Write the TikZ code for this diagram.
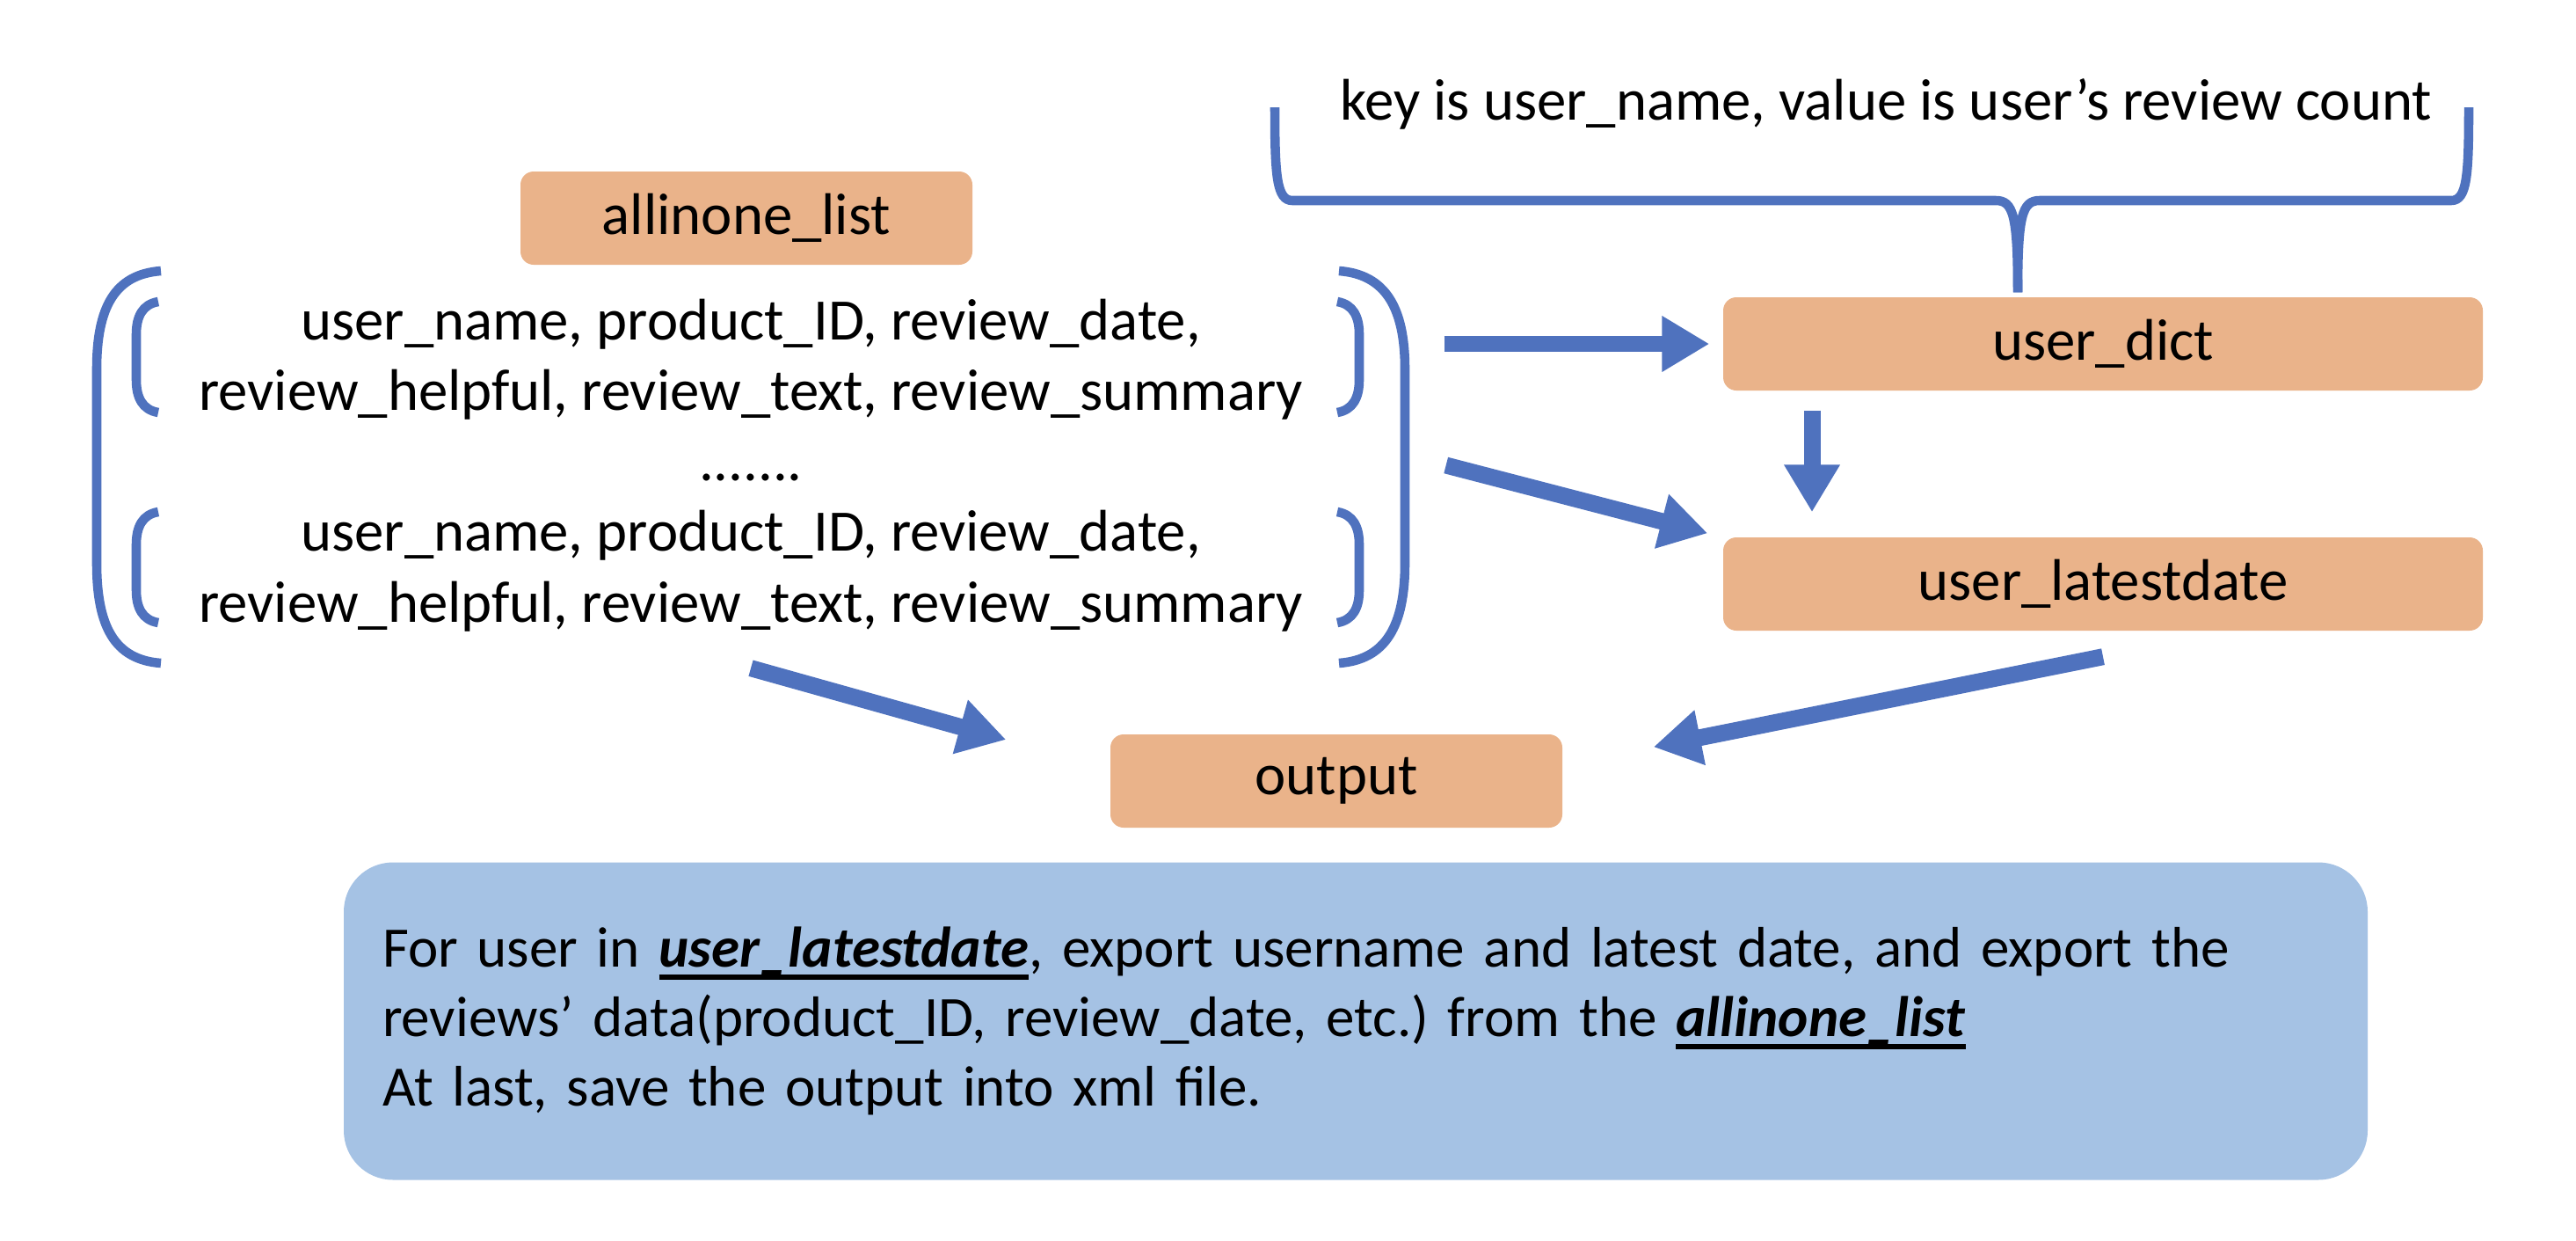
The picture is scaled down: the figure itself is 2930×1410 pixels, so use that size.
\documentclass[tikz,border=0pt]{standalone}
\usepackage{fontspec}
\setmainfont{Carlito}
\usetikzlibrary{arrows.meta}
\definecolor{boxorange}{RGB}{234,179,138}
\definecolor{lineblue}{RGB}{79,114,190}
\definecolor{noteblue}{RGB}{165,194,228}
\newcommand{\boldul}[1]{\setbox0\hbox{#1}\rlap{\rule[-4pt]{\wd0}{1.6pt}}\box0}
\frenchspacing
\begin{document}
\begin{tikzpicture}[
  x=0.1mm, y=-0.1mm,
  font=\fontsize{19}{22.8}\selectfont,
  box/.style={fill=boxorange, rounded corners=0.15cm, minimum height=1.06cm},
  wide/.style={box, minimum width=8.64cm},
  narrow/.style={box, minimum width=5.14cm},
  records/.style={align=center, minimum width=14.9cm, minimum height=4.46cm},
  note/.style={fill=noteblue, rounded corners=0.56cm, align=left, text width=22.14cm, inner xsep=0.44cm, minimum height=3.61cm, font=\fontsize{18.5}{22.4}\selectfont},
  bracket/.style={draw=lineblue, line width=3pt},
  flow/.style={draw=lineblue, line width=5.4pt, -{Triangle[width=0.6cm, length=0.54cm]}}
]
\useasboundingbox (0,0) rectangle (2930,1410);
\node[narrow] (listname) at (849,248) {allinone\_list};
\node[records] (records) at (854,529) {user\_name, product\_ID, review\_date,\\
  review\_helpful, review\_text, review\_summary\\
  .......\\
  user\_name, product\_ID, review\_date,\\
  review\_helpful, review\_text, review\_summary};
\node[wide] (dict) at (2392,391) {user\_dict};
\node[wide] (latest) at (2392,664) {user\_latestdate};
\node[narrow] (output) at (1520,888) {output};
\node[anchor=base] (dictnote) at (2145,136) {key is user\_name, value is user’s review count};
\node[note] (summary) at (1542,1161) {For user in \boldul{\textbf{\textit{user\_latestdate}}}, export username and latest date, and export the\\
  reviews’ data(product\_ID, review\_date, etc.) from the \boldul{\textbf{\textit{allinone\_list}}}\\
  At last, save the output into xml file.};
% brackets round the records
\draw[bracket] (183,308) .. controls (130,312) and (110,350) .. (110,420) -- (110,640) .. controls (110,712) and (130,750) .. (183,754);
\draw[bracket] (1523,308) .. controls (1576,312) and (1598,350) .. (1598,420) -- (1598,640) .. controls (1598,712) and (1576,750) .. (1523,754);
\foreach \y in {343,582} {
  \draw[bracket] (180,\y) .. controls (162,\y+3) and (155,\y+17) .. (155,\y+37) -- (155,\y+89) .. controls (155,\y+109) and (162,\y+123) .. (180,\y+126);
  \draw[bracket] (1521,\y) .. controls (1539,\y+3) and (1546,\y+17) .. (1546,\y+37) -- (1546,\y+89) .. controls (1546,\y+109) and (1539,\y+123) .. (1521,\y+126);
}
% brace over user_dict
\coordinate (bracetip) at ([xshift=-0.97cm, yshift=0.05cm]dict.north);
\draw[bracket] (1450,122) .. controls (1450,200) and (1452,228) .. (1470,228) -- (2270,228) .. controls (2290,228) and (2295,245) .. (bracetip);
\draw[bracket] (2808,122) .. controls (2808,200) and (2806,228) .. (2788,228) -- (2320,228) .. controls (2300,228) and (2295,245) .. (bracetip);
% arrows
\draw[flow, shorten <=0.43cm, shorten >=0.15cm] (records.east |- dict.west) -- (dict.west);
\draw[flow] ([xshift=-3.31cm, yshift=-0.22cm]dict.south) -- ([xshift=-3.31cm, yshift=0.28cm]latest.north);
\draw[flow] ([xshift=0.45cm]records.east) -- ([xshift=-0.17cm, yshift=0.04cm]latest.north west);
\draw[flow] ([yshift=-0.07cm]records.south) -- ([xshift=-1.18cm, yshift=0.47cm]output.west);
\draw[flow] ([yshift=-0.29cm]latest.south) -- ([xshift=1.03cm, yshift=-0.15cm]output.north east);
\end{tikzpicture}
\end{document}
